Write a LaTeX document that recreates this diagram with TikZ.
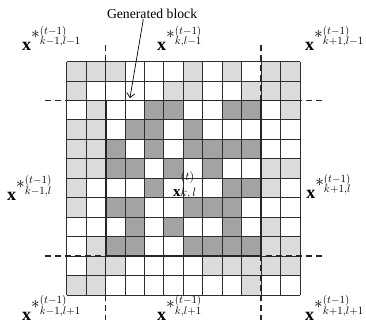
\documentclass[tikz,border=0pt]{standalone}
\usepackage{fontspec}
\setmainfont{Liberation Serif}
\usetikzlibrary{arrows.meta,calc}
\definecolor{cellL}{gray}{0.86}
\definecolor{cellD}{gray}{0.64}
\definecolor{cellW}{gray}{1}
\definecolor{gridink}{gray}{0.18}
\tikzset{
  gridline/.style={draw=gridink, line width=1pt},
  blockline/.style={draw=black!85, line width=1.9pt},
  splitline/.style={draw=black!85, line width=1.8pt, dash pattern=on 6pt off 4pt},
  pointer/.style={-{Straight Barb[length=4.5pt,width=8pt]}, line width=0.7pt},
  xlabel/.style={inner sep=0pt, anchor=base west},
  caption/.style={inner sep=0pt, anchor=base, font=\fontsize{13.7}{16}\selectfont}
}
\newcommand{\bigx}[1]{\mbox{\fontsize{#1}{#1}\selectfont$\mathbf{x}$}}
\newcommand{\xprev}[1]{\bigx{18}\raisebox{12pt}{\fontsize{16}{16}\selectfont$*$}%
  \raisebox{5.5pt}{\fontsize{15}{10.5}\selectfont\begin{tabular}[b]{@{}l@{}}$\scriptstyle(t-1)$\\$\scriptstyle#1$\end{tabular}}}
\newcommand{\xnow}{\bigx{15}%
  \raisebox{0pt}{\fontsize{12}{16}\selectfont\begin{tabular}[b]{@{}l@{}}$(t)$\\$k,l$\end{tabular}}}
\begin{document}
\begin{tikzpicture}[x=19.45pt, y=19.45pt]
  \useasboundingbox (-3.429,-1.697) rectangle (15.388,15.167);
  \foreach \cells [count=\r from 0] in {
      {L,L,L,W,W,W,L,W,L,W,L,L},
      {L,W,W,W,W,L,L,W,W,L,L,L},
      {W,L,W,W,D,D,W,W,D,D,W,L},
      {L,L,W,D,D,W,D,W,W,W,W,W},
      {L,L,D,W,D,W,D,D,D,D,W,W},
      {L,L,D,D,W,D,W,D,W,W,L,L},
      {L,W,W,W,D,W,W,W,D,D,L,W},
      {L,W,D,D,W,W,D,D,D,W,W,W},
      {W,W,W,D,W,D,W,W,D,W,L,W},
      {W,L,D,D,W,W,D,D,D,D,L,L},
      {W,L,L,W,W,W,W,L,L,L,L,L},
      {L,L,W,W,W,W,W,W,W,L,W,W}} {
    \foreach \c [count=\k from 0] in \cells {
      \fill[fill=cell\c] (\k,11-\r) rectangle ++(1,1);
    }
  }
  \draw[gridline, step=1] (0,0) grid (12,12);
  \draw[blockline] (2,2) rectangle (10,10);
  \draw[splitline] (-1.12,10) -- (2,10) -- (2,13.0);
  \draw[splitline] (13.13,10) -- (10,10) -- (10,13.0);
  \draw[splitline] (-1.12,2) -- (2,2) -- (2,-1.29);
  \draw[splitline] (13.13,2) -- (10,2) -- (10,-1.29);
  \node[caption] (gen) at (4.39,14.2) {Generated block};
  \coordinate (tip) at (3.25,10.12);
  \draw[pointer] ($(gen.south)+(-0.45,0)$) -- (tip);
  \node[xlabel] (ltl) at (-2.30,12.58) {\xprev{k-1,l-1}};
  \node[xlabel] (ltc) at (4.64,12.58) {\xprev{k,l-1}};
  \node[xlabel] (ltr) at (12.25,12.58) {\xprev{k+1,l-1}};
  \node[xlabel] (lml) at (-3.07,4.88) {\xprev{k-1,l}};
  \node[xlabel] (lmr) at (12.31,4.97) {\xprev{k+1,l}};
  \node[xlabel] (lbl) at (-2.30,-1.29) {\xprev{k-1,l+1}};
  \node[xlabel] (lbc) at (4.64,-1.29) {\xprev{k,l+1}};
  \node[xlabel] (lbr) at (12.25,-1.29) {\xprev{k+1,l+1}};
  \node[xlabel] (lcen) at (5.465,5.04) {\xnow};
\end{tikzpicture}
\end{document}
